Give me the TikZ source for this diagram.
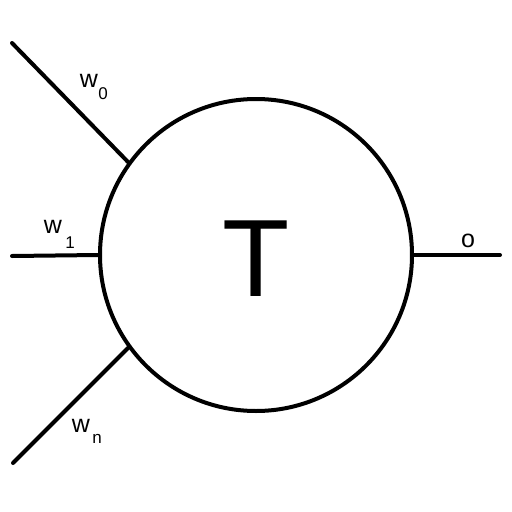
\documentclass[tikz,border=0pt]{standalone}
\usepackage{fontspec}
\setmainfont{Liberation Sans}
\begin{document}
\begin{tikzpicture}[x=1pt,y=-1pt,
  edge/.style={line width=4pt,line cap=round},
  lbl/.style={inner sep=0pt,anchor=base,font=\fontsize{25}{25}\selectfont},
  sublbl/.style={inner sep=0pt,anchor=base,font=\fontsize{17}{17}\selectfont}]
\useasboundingbox (0,0) rectangle (512,512);
\node[draw,circle,line width=4pt,minimum size=312pt,inner sep=0pt] (c) at (256,255) {};
\node[inner sep=0pt,anchor=base,font=\fontsize{110}{110}\selectfont] (t) at (256,296) {T};
\coordinate (a0) at (12,43);
\coordinate (a1) at (12,256);
\coordinate (an) at (13,463);
\coordinate (ao) at (500,255);
\draw[edge] (a0) -- (c.144);
\draw[edge] (a1) -- (c.180);
\draw[edge] (an) -- (c.216);
\draw[edge] (c.0) -- (ao);
\node[lbl] (w0) at (89,87) {w};
\node[sublbl] (s0) at (103,99) {0};
\node[lbl] (w1) at (53,233) {w};
\node[sublbl] (s1) at (70,248) {1};
\node[lbl] (wn) at (81,432) {w};
\node[sublbl] (sn) at (97,443) {n};
\node[lbl] (o) at (468,247) {o};
\end{tikzpicture}
\end{document}
